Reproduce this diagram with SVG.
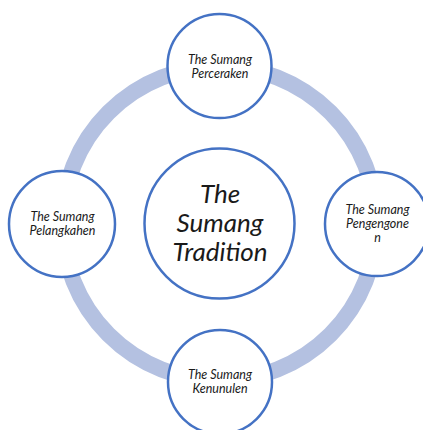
<svg xmlns="http://www.w3.org/2000/svg" width="423" height="430" viewBox="0 0 423 430">
<style>
.ring{fill:none;stroke:#b4c1e1;stroke-width:16}
.node{fill:#ffffff;stroke:#4472c4;stroke-width:2.5}
.lbl{font-family:Lato,"Open Sans","Liberation Sans",sans-serif;font-style:italic;font-size:12.5px;fill:#1a1a1a;text-anchor:middle}
.big{font-family:Lato,"Open Sans","Liberation Sans",sans-serif;font-style:italic;font-size:26px;fill:#1a1a1a;text-anchor:middle}
</style>
<rect width="423" height="430" fill="#ffffff"/>
<g id="connectors">
<path class="ring" d="M219.5,66.5 A157,157 0 0 1 376.5,223.5"/>
<path class="ring" d="M376.5,223.5 A157,157 0 0 1 219.5,380.5"/>
<path class="ring" d="M219.5,380.5 A157,157 0 0 1 62.5,223.5"/>
<path class="ring" d="M62.5,223.5 A157,157 0 0 1 219.5,66.5"/>
</g>
<g id="center">
<circle class="node" cx="219.5" cy="223.5" r="75"/>
<text class="big" x="220" y="203">The</text>
<text class="big" x="220" y="232">Sumang</text>
<text class="big" x="220" y="261">Tradition</text>
</g>
<g id="top">
<circle class="node" cx="219.5" cy="66" r="52"/>
<text class="lbl" x="220" y="64">The Sumang</text>
<text class="lbl" x="220" y="78">Perceraken</text>
</g>
<g id="right">
<circle class="node" cx="377" cy="224" r="52"/>
<text class="lbl" x="377.5" y="213.5">The Sumang</text>
<text class="lbl" x="377.5" y="227.5">Pengengone</text>
<text class="lbl" x="377.5" y="241.5">n</text>
</g>
<g id="bottom">
<circle class="node" cx="220" cy="382" r="52"/>
<text class="lbl" x="220" y="378.5">The Sumang</text>
<text class="lbl" x="220" y="392.5">Kenunulen</text>
</g>
<g id="left">
<circle class="node" cx="62" cy="224" r="53"/>
<text class="lbl" x="62.5" y="220.5">The Sumang</text>
<text class="lbl" x="62.5" y="234.5">Pelangkahen</text>
</g>
</svg>
